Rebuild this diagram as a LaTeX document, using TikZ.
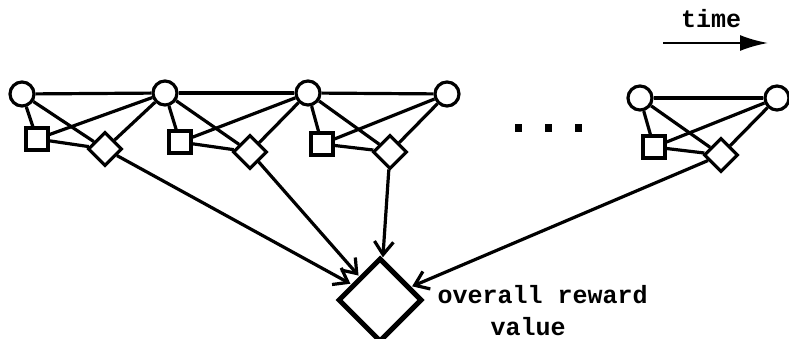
\documentclass[tikz,border=0pt]{standalone}
\usepackage{fontspec}
\setmonofont{Liberation Mono}
\usetikzlibrary{shapes.geometric}
\usetikzlibrary{arrows.meta}
\tikzset{>={Straight Barb[length=13pt, width=19pt]}}

\begin{document}
\begin{tikzpicture}[x=1pt, y=-1pt, line width=3.2pt,
    state/.style={circle, draw, minimum size=24pt, inner sep=0pt},
    act/.style={rectangle, draw, minimum size=22pt, inner sep=0pt},
    rew/.style={diamond, draw, minimum size=34pt, inner sep=0pt},
    lbl/.style={font=\fontsize{25}{28}\selectfont\ttfamily\bfseries, inner sep=0pt}]
  \useasboundingbox (0,0) rectangle (789,339);
  % time slices
  \node[state] (c1) at (22, 94) {};
  \node[state] (c2) at (165, 93) {};
  \node[state] (c3) at (308, 93) {};
  \node[state] (c4) at (447, 94) {};
  \node[act] (s1) at (37, 139) {};
  \node[act] (s2) at (180, 142) {};
  \node[act] (s3) at (322, 144) {};
  \node[rew] (d1) at (105, 149) {};
  \node[rew] (d2) at (250, 152) {};
  \node[rew] (d3) at (390, 152) {};
  \node[state] (c5) at (640, 98) {};
  \node[state] (c6) at (777, 98) {};
  \node[act] (s5) at (654, 147) {};
  \node[rew] (d5) at (721, 155) {};
  \foreach \i/\j in {1/2, 2/3, 3/4, 5/6} {
    \draw (c\i) -- (c\j);
    \draw (c\i) -- (s\i);
    \draw (c\i) -- (d\i);
    \draw (s\i) -- (d\i);
    \draw (s\i) -- (c\j);
    \draw (d\i) -- (c\j);
  }
  % dots between slices
  \foreach \x in {518, 548, 578}
    \fill (\x-3.5, 124) rectangle (\x+3.5, 132);
  % overall reward
  \node[rew, minimum size=84pt, line width=5pt] (R) at (380, 300) {};
  \foreach \k in {1, 2, 3, 5}
    \draw[->, shorten >=1pt] (d\k) -- (R);
  \node[lbl, anchor=base west] (o) at (436, 303) {overall reward};
  \node[lbl, anchor=base] (v) at (528, 335) {value};
  % time arrow
  \node[lbl, anchor=base] (t) at (711, 28) {time};
  \coordinate (t0) at (663, 43);
  \coordinate (t1) at (768, 43);
  \draw[-{Latex[length=28pt, width=16pt]}, line width=2.4pt] (t0) -- (t1);
\end{tikzpicture}
\end{document}
